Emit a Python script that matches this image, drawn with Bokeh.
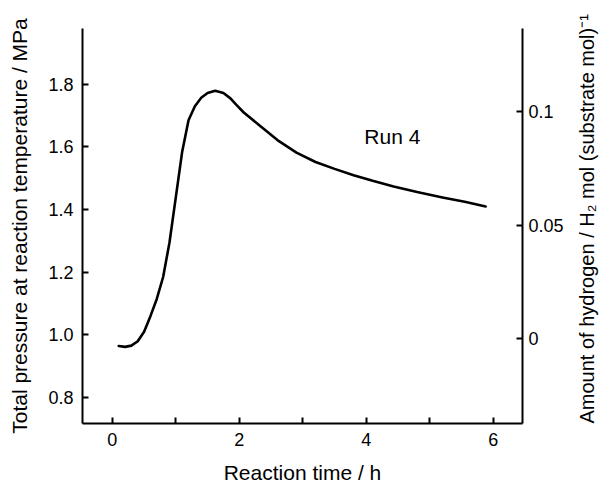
import math
from bokeh.plotting import figure
from bokeh.models import Range1d, LinearAxis, FixedTicker, Label
from bokeh.embed import file_html
from bokeh.resources import INLINE

# ---- data ----
time_h = [0.10, 0.20, 0.30, 0.40, 0.50, 0.60, 0.70, 0.80, 0.90, 1.00, 1.10,
          1.20, 1.30, 1.40, 1.50, 1.62, 1.75, 1.86, 1.95, 2.07, 2.30, 2.60,
          2.90, 3.20, 3.50, 3.80, 4.10, 4.43, 4.80, 5.20, 5.55, 5.88]
pressure_mpa = [0.965, 0.962, 0.966, 0.980, 1.010, 1.060, 1.115, 1.185, 1.295,
                1.440, 1.585, 1.685, 1.730, 1.757, 1.772, 1.779, 1.772, 1.755,
                1.735, 1.710, 1.672, 1.622, 1.582, 1.552, 1.530, 1.510, 1.492,
                1.474, 1.456, 1.439, 1.425, 1.410]

x_major_ticks = [0, 2, 4, 6]
x_minor_ticks = [1, 3, 5]
y_left_ticks = [0.8, 1.0, 1.2, 1.4, 1.6, 1.8]
y_left_labels = ["0.8", "1.0", "1.2", "1.4", "1.6", "1.8"]
y_right_ticks = [0, 0.05, 0.1]
y_right_labels = ["0", "0.05", "0.1"]

run_label = "Run 4"
x_title = "Reaction time / h"
y_left_title = "Total pressure at reaction temperature / MPa"
y_right_title = "Amount of hydrogen / H\u2082 mol (substrate mol)\u207b\u00b9"

FONT = "Liberation Sans"

p = figure(width=611, height=486, output_backend="svg", toolbar_location=None,
           x_range=Range1d(-0.47, 6.46), y_range=Range1d(0.7175, 1.978),
           min_border_left=82, min_border_right=89, min_border_top=28,
           min_border_bottom=61)
p.outline_line_color = None
p.xgrid.visible = False
p.ygrid.visible = False
p.background_fill_color = "white"
p.border_fill_color = "white"

p.line(time_h, pressure_mpa, line_color="black", line_width=2.6,
       line_join="round", line_cap="round")

def style(ax):
    ax.axis_line_color = "black"
    ax.axis_line_width = 2
    ax.major_tick_line_color = "black"
    ax.major_tick_line_width = 2
    ax.minor_tick_line_color = "black"
    ax.minor_tick_line_width = 2
    ax.major_tick_in = 6
    ax.major_tick_out = 0
    ax.minor_tick_in = 0
    ax.minor_tick_out = 0
    ax.major_label_text_font = FONT
    ax.major_label_text_font_size = "18px"
    ax.major_label_text_color = "black"
    ax.axis_label_text_font = FONT
    ax.axis_label_text_font_size = "21px"
    ax.axis_label_text_font_style = "normal"
    ax.axis_label_text_color = "black"

# bottom axis
xa = p.xaxis[0]
style(xa)
xa.ticker = FixedTicker(ticks=x_major_ticks, minor_ticks=x_minor_ticks)
xa.minor_tick_in = 6
xa.major_label_standoff = 9
xa.axis_label = x_title
xa.axis_label_standoff = 12

# left axis
ya = p.yaxis[0]
style(ya)
ya.ticker = FixedTicker(ticks=y_left_ticks)
ya.major_label_overrides = {t: l for t, l in zip(y_left_ticks, y_left_labels)}
ya.major_label_standoff = 9
ya.axis_label = y_left_title
ya.axis_label_standoff = 14

# right axis
p.extra_y_ranges = {"h2": Range1d(-0.0373, 0.1368)}
ra = LinearAxis(y_range_name="h2")
style(ra)
ra.ticker = FixedTicker(ticks=y_right_ticks)
ra.major_label_overrides = {t: l for t, l in zip(y_right_ticks, y_right_labels)}
ra.major_label_standoff = 6
ra.axis_label = y_right_title
ra.axis_label_text_font_size = "20px"
ra.axis_label_standoff = 20
props = ra.properties()
if "axis_label_orientation" in props:
    ra.axis_label_orientation = math.pi / 2
if "axis_label_align" in props:
    ra.axis_label_align = "start"
p.add_layout(ra, "right")

# run label
p.add_layout(Label(x=4.41, y=1.632, text=run_label, text_align="center",
                   text_baseline="middle", text_font=FONT,
                   text_font_size="21px", text_color="black"))

open("out.html", "w").write(file_html(p, INLINE))
